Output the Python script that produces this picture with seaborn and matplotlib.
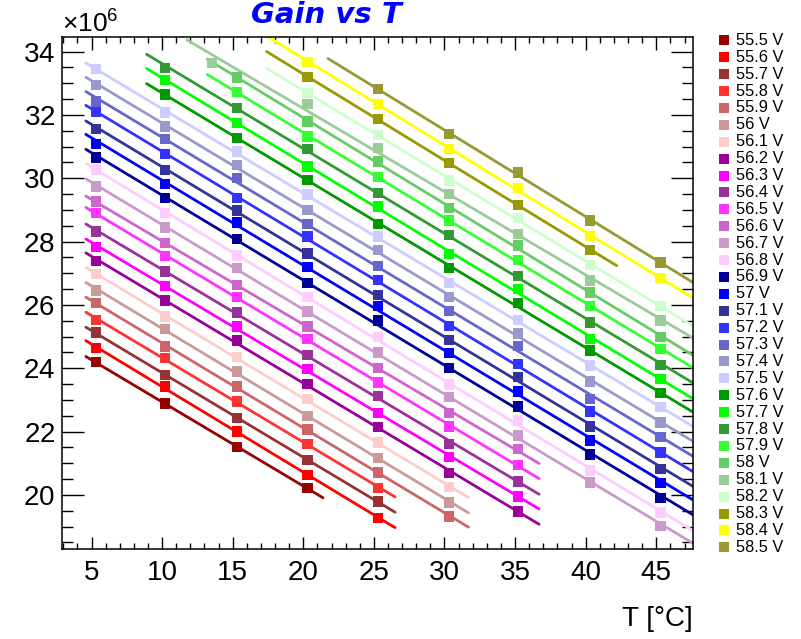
import numpy as np
import pandas as pd
import matplotlib
matplotlib.use("Agg")
import matplotlib.pyplot as plt
import seaborn as sns
from matplotlib.ticker import MultipleLocator, ScalarFormatter

_ = None

# Bias voltages (V) and the colour used for each of them
voltages = [55.5, 55.6, 55.7, 55.8, 55.9, 56.0, 56.1, 56.2, 56.3, 56.4, 56.5,
            56.6, 56.7, 56.8, 56.9, 57.0, 57.1, 57.2, 57.3, 57.4, 57.5, 57.6,
            57.7, 57.8, 57.9, 58.0, 58.1, 58.2, 58.3, 58.4, 58.5]
colors = ["#990000", "#ff0000", "#993333", "#ff3333", "#cc6666", "#cc9999",
          "#ffcccc", "#990099", "#ff00ff", "#993399", "#ff33ff", "#cc66cc",
          "#cc99cc", "#ffccff", "#000099", "#0000ff", "#333399", "#3333ff",
          "#6666cc", "#9999cc", "#ccccff", "#009900", "#00ff00", "#339933",
          "#33ff33", "#66cc66", "#99cc99", "#ccffcc", "#999900", "#ffff00",
          "#999933"]

# Measured temperatures (deg C)
temps = [5.3, 10.2, 13.55, 15.3, 20.3, 25.3, 30.3, 35.2, 40.3, 45.3]

# Gain (x1e6) at each temperature, one list per bias voltage
g55_5 = [24.19, 22.88, _, 21.51, 20.21, _, _, _, _, _]
g55_6 = [24.63, 23.42, _, 22.00, 20.63, 19.27, _, _, _, _]
g55_7 = [25.13, 23.79, _, 22.42, 21.10, 19.79, _, _, _, _]
g55_8 = [25.53, 24.32, _, 22.95, 21.61, 20.21, _, _, _, _]
g55_9 = [26.06, 24.69, _, 23.42, 22.06, 20.71, 19.32, _, _, _]
g56_0 = [26.45, 25.23, _, 23.90, 22.50, 21.16, 19.76, _, _, _]
g56_1 = [26.98, 25.63, _, 24.35, 23.02, 21.65, 20.24, _, _, _]
g56_2 = [27.38, 26.14, _, 24.87, 23.51, 22.14, 20.69, 19.47, _, _]
g56_3 = [27.82, 26.60, _, 25.32, 23.97, 22.58, 21.19, 19.95, _, _]
g56_4 = [28.32, 27.05, _, 25.76, 24.42, 23.13, 21.61, 20.42, _, _]
g56_5 = [28.90, 27.55, _, 26.24, 24.92, 23.55, 22.16, 20.95, _, _]
g56_6 = [29.26, 27.95, _, 26.63, 25.32, 24.00, 22.58, 21.45, _, _]
g56_7 = [29.74, 28.44, _, 27.17, 25.79, 24.50, 23.09, 21.87, 20.39, 19.02]
g56_8 = [30.27, 28.90, _, 27.56, 26.24, 24.98, 23.48, 22.35, 20.77, 19.44]
g56_9 = [30.65, 29.37, _, 28.08, 26.69, 25.51, 24.00, 22.79, 21.27, 19.90]
g57_0 = [31.09, 29.82, _, 28.60, 27.20, 25.96, 24.48, 23.26, 21.72, 20.37]
g57_1 = [31.56, 30.26, _, 28.98, 27.62, 26.32, 24.90, 23.72, 22.16, 20.81]
g57_2 = [32.10, 30.77, _, 29.37, 28.16, 26.79, 25.34, 24.14, 22.63, 21.34]
g57_3 = [32.42, 31.23, _, 30.00, 28.56, 27.23, 25.80, 24.70, 23.02, 21.82]
g57_4 = [32.95, 31.63, _, 30.42, 29.00, 27.74, 26.24, 25.09, 23.58, 22.28]
g57_5 = [33.45, 32.07, _, 30.84, 29.48, 28.16, 26.69, 25.53, 24.08, 22.77]
g57_6 = [_, 32.65, _, 31.27, 29.95, 28.56, 27.16, 26.06, 24.56, 23.21]
g57_7 = [_, 33.11, _, 31.74, 30.37, 29.11, 27.61, 26.50, 24.93, 23.66]
g57_8 = [_, 33.48, _, 32.21, 30.92, 29.53, 28.21, 26.92, 25.44, 24.11]
g57_9 = [_, _, _, 32.72, 31.32, 30.03, 28.66, 27.42, 25.97, 24.60]
g58_0 = [_, _, _, 33.18, 31.79, 30.53, 29.06, 27.87, 26.39, 24.99]
g58_1 = [_, _, 33.63, _, 32.35, 30.95, 29.51, 28.24, 26.77, 25.51]
g58_2 = [_, _, _, _, 32.69, 31.37, 29.93, 28.74, 27.26, 25.97]
g58_3 = [_, _, _, _, 33.19, 31.87, 30.48, 29.16, 27.74, _]
g58_4 = [_, _, _, _, 33.68, 32.35, 30.92, 29.69, 28.18, 26.84]
g58_5 = [_, _, _, _, _, 32.81, 31.40, 30.18, 28.66, 27.34]

gains = [g55_5, g55_6, g55_7, g55_8, g55_9, g56_0, g56_1, g56_2, g56_3,
         g56_4, g56_5, g56_6, g56_7, g56_8, g56_9, g57_0, g57_1, g57_2,
         g57_3, g57_4, g57_5, g57_6, g57_7, g57_8, g57_9, g58_0, g58_1,
         g58_2, g58_3, g58_4, g58_5]

# Temperature range (deg C) over which each linear fit is drawn
fit_lo = [4.6] * 21 + [8.9] * 3 + [13.2, 13.2, 11.75, 17.4, 17.4, 17.4, 21.75]
fit_hi = [21.4] + [26.5] * 3 + [31.7] * 3 + [36.7] * 5 + [48.0] * 16 + [42.2, 48.0, 48.0]

labels = [f"{v:g} V" for v in voltages]
palette = dict(zip(labels, colors))

# Long-form table of the measurements
rows = []
for lab, g in zip(labels, gains):
    for t, val in zip(temps, g):
        if val is not None:
            rows.append((lab, t, val * 1e6))
points = pd.DataFrame(rows, columns=["series", "T", "gain"])

# Straight-line fit of gain vs temperature for every voltage
fit_rows = []
for lab, lo, hi in zip(labels, fit_lo, fit_hi):
    d = points[points["series"] == lab]
    slope, icpt = np.polyfit(d["T"], d["gain"], 1)
    for t in (lo, hi):
        fit_rows.append((lab, t, slope * t + icpt))
fits = pd.DataFrame(fit_rows, columns=["series", "T", "gain"])

sns.set_style("ticks")
plt.rcParams["font.family"] = ["Liberation Sans", "DejaVu Sans"]
plt.rcParams["mathtext.fontset"] = "custom"
plt.rcParams["mathtext.rm"] = "Liberation Sans"
plt.rcParams["mathtext.default"] = "regular"
plt.rcParams["text.color"] = "black"
plt.rcParams["xtick.color"] = "black"
plt.rcParams["ytick.color"] = "black"
plt.rcParams["xtick.labelcolor"] = "black"
plt.rcParams["ytick.labelcolor"] = "black"

fig = plt.figure(figsize=(8.01, 6.39), dpi=100)
ax = fig.add_axes([62 / 801, (639 - 549) / 639, (693 - 62) / 801, (549 - 36.7) / 639])

sns.lineplot(data=fits, x="T", y="gain", hue="series", hue_order=labels,
             palette=palette, estimator=None, sort=False, linewidth=2.0,
             legend=False, ax=ax, zorder=2)
sns.scatterplot(data=points, x="T", y="gain", hue="series", hue_order=labels,
                palette=palette, marker="s", s=56, linewidth=0,
                legend=False, ax=ax, zorder=3)

ax.set_xlim(2.91, 47.6)
ax.set_ylim(18.29e6, 34.47e6)
ax.xaxis.set_major_locator(MultipleLocator(5))
ax.xaxis.set_minor_locator(MultipleLocator(1))
ax.yaxis.set_major_locator(MultipleLocator(2e6))
ax.yaxis.set_minor_locator(MultipleLocator(0.5e6))
fmt = ScalarFormatter(useMathText=True, useOffset=False)
fmt.set_powerlimits((6, 6))
ax.yaxis.set_major_formatter(fmt)
ax.yaxis.get_offset_text().set_fontsize(19)
ax.yaxis.get_offset_text().set_color("black")

for s in ax.spines.values():
    s.set_linewidth(1.1)
    s.set_color("black")

ax.tick_params(axis="y", which="major", direction="in", length=16, width=1,
               labelsize=20, pad=5, left=True, right=True, colors="black")
ax.tick_params(axis="y", which="minor", direction="in", length=8, width=1,
               left=True, right=True, colors="black")
ax.tick_params(axis="x", which="major", direction="in", length=9, width=1,
               labelsize=20, pad=8, top=True, bottom=True, colors="black")
ax.tick_params(axis="x", which="minor", direction="in", length=4.5, width=1,
               top=True, bottom=True, colors="black")

ax.set_ylabel("")
ax.set_xlabel("T [°C]", loc="right", fontsize=20, labelpad=14, color="black")

fig.text(326 / 801, 1 - 23 / 639, "Gain vs T", color="#0000ff", fontsize=21,
         style="italic", weight="bold", family="DejaVu Sans",
         ha="center", va="baseline")

# Legend column on the right: one coloured square per voltage
lax = fig.add_axes([715 / 801, (639 - 555.8) / 639, 86 / 801, 523.9 / 639])
lax.set_xlim(0, 86)
lax.set_ylim(len(labels) - 0.5, -0.5)
lax.axis("off")
for i, (lab, col) in enumerate(zip(labels, colors)):
    lax.scatter([8.5], [i], marker="s", s=62, color=col, linewidths=0)
    lax.text(21, i, lab, fontsize=11.8, va="center", ha="left", color="black")

fig.savefig("out.png", dpi=100)
